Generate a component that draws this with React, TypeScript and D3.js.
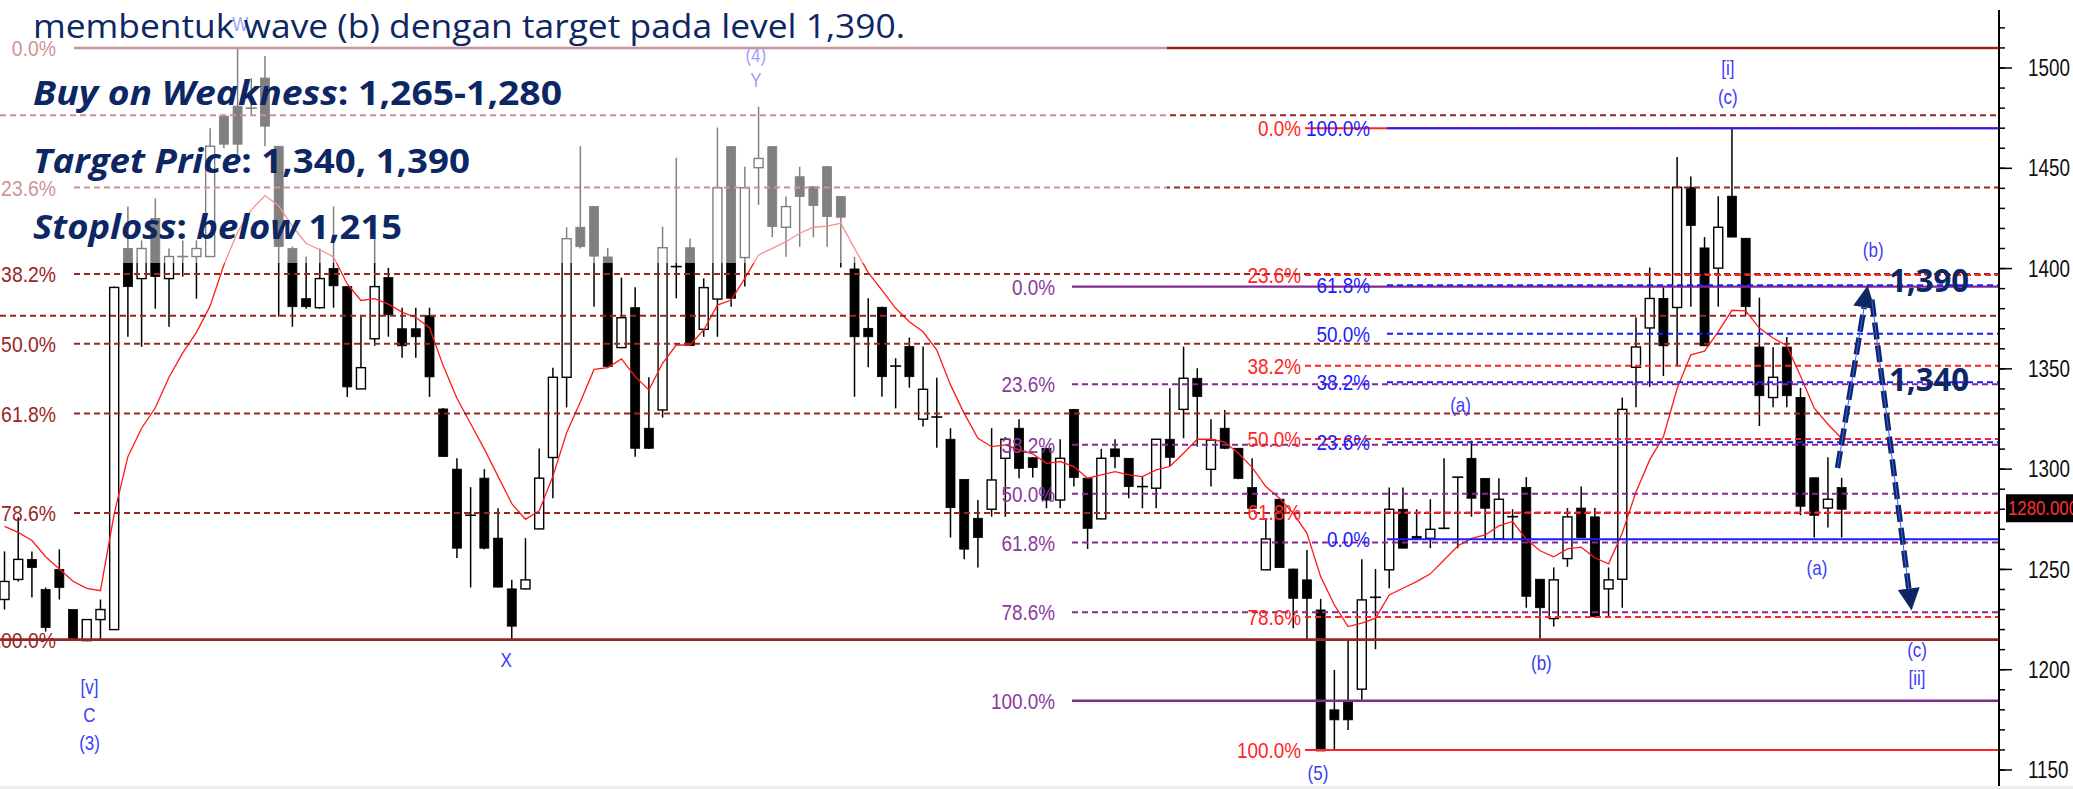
import React from 'react';
import * as d3 from 'd3';

const W = 2073;
const H = 789;

// ---- candle data (index 0..134) ----
const opens = [1235,1245,1255,1240,1250,1230,1214.5,1225,1220,1410,1395,1425,1395,1406,1406,1406,1476,1481,1480,1495,1461,1410,1385,
1380.5,1400,1391,1340,1365,1395.5,1370,1370,1376.5,1330,1300,1277,1295.5,1265.6,1240.3,1240.3,1270.2,1305.8,1345.8,1420.6,1431,1405.8,1360.6,
1380.5,1320.4,1329.5,1401,1410.4,1369.7,1384.8,1460.8,1405.5,1450.3,1460.8,1420.6,1445.8,1440.8,1450.8,1435.9,1399.8,1370.2,1380.7,1351.4,1361.1,1324.9,
1326,1314.9,1294.9,1275.5,1280,1305.4,1320.4,1305.7,1310.4,1284.6,1329.8,1295.5,1275.2,1310.1,1305.4,1291.3,1290.5,1314.9,1329.8,1345.3,1299.9,1320.4,
1310.4,1290.8,1249.8,1285,1250.2,1244.8,1229.8,1180,1184.1,1190.3,1236.1,1249.8,1280,1266.5,1265.5,1270.5,1296,1305.4,1295.4,1265.2,1276.3,1290.9,
1245.1,1225.5,1255.4,1280.6,1276.2,1240.3,1245.1,1350.8,1370.4,1385.1,1380.6,1440.5,1410.3,1400.2,1436.1,1415.1,1360.9,1335.7,1360.9,1335.7,1295.7,1280.6,1290.8];
const highs = [1259,1276,1259,1241,1260,1230,1225,1235,1391,1431,1414,1435,1410,1414,1414,1470,1477,1510,1495,1506,1461,1411,1406,
1410,1431,1391,1376.5,1415,1400.4,1380.5,1380.5,1380.5,1330.5,1305.4,1291,1300,1280.5,1244.8,1265.6,1310.3,1350.6,1420.6,1461,1431,1410.3,1395.5,
1390.7,1345.8,1420.9,1455.3,1415,1395.1,1470.3,1461,1450.8,1480.7,1461,1435.9,1450.8,1441,1451,1436,1405.9,1385.2,1381,1355.3,1365.6,1361.1,
1345.6,1320.4,1295,1284.6,1320.4,1316,1324.9,1306,1310.4,1314.9,1330,1295.5,1310.1,1314.9,1305.5,1296.3,1315,1340.3,1361.1,1350.3,1324.9,1329.5,
1310.5,1305.4,1275.5,1285,1250.3,1259.7,1235.3,1199.9,1214.9,1255.1,1250.2,1290.8,1290.8,1280,1285,1305.4,1296,1314.2,1295.5,1295.4,1280,1296,
1245.1,1251,1280.6,1291.3,1280.6,1251,1335.7,1375.7,1400.5,1390.8,1455.6,1445.9,1415.7,1436.1,1470.2,1415.1,1385.5,1360.9,1365.9,1340.5,1295.7,1305.9,1295.7];
const lows = [1230,1244,1236,1219,1235,1214.5,1214.5,1214.5,1220,1366,1361,1380,1371,1396,1385,1406,1460,1457,1477,1461,1376,1371,1380,
1380,1380.5,1336,1340,1361.5,1366,1355.5,1355.5,1336,1306,1255.7,1241,1260,1241,1215,1240,1270,1285.5,1330.8,1410,1381,1351,1360.5,
1306.2,1310,1325.7,1385.2,1361.5,1366,1366,1381,1391,1431.7,1415.6,1405.9,1410.9,1415.6,1410.9,1400.5,1336.1,1350.8,1336.1,1330.3,1340.6,1321.2,
1310.7,1265.9,1255.1,1250.9,1276.3,1276.3,1295.4,1295.8,1280.5,1280.5,1291.3,1260.2,1275,1300.4,1285.5,1280.5,1280.5,1301.3,1315.4,1311.2,1291.3,1310,
1295,1280,1249.7,1250.9,1220.7,1214.9,1159.5,1159.5,1170,1185,1210.2,1240.6,1260.5,1265.5,1260.6,1270,1260.6,1276.3,1265.2,1265,1265.2,1230.9,
1215.4,1221.5,1251.3,1265.9,1226,1226.4,1230.9,1330.9,1341.1,1346.4,1351.3,1381,1361.5,1381,1415.7,1376.6,1321.5,1330.9,1330.9,1277,1265.9,1270.9,1265.9];
const closes = [1244,1255,1251,1221,1241,1214.5,1225,1230,1390.6,1391,1410,1396,1406,1406,1410,1461,1462,1462,1480,1471,1411,1381,1381,
1395,1391.4,1341,1350.6,1391,1377,1361.5,1366,1346,1306.3,1260.6,1277,1260.6,1241.2,1221.7,1244.8,1295.5,1345.8,1414.9,1410.9,1406.2,1351.2,1375.5,
1310.4,1310.4,1410.4,1401,1361.6,1390.5,1440.3,1385.2,1440.3,1454.9,1420.9,1430.9,1435.9,1431.4,1425.9,1425.6,1366,1366,1346.1,1351.4,1346.1,1339.8,
1326,1280.8,1260.1,1265.9,1294.6,1314.9,1300.4,1300.8,1284.6,1305.4,1295.8,1270.5,1305.4,1306.2,1291.3,1291.3,1314.9,1305.9,1345.3,1336.2,1314.5,1310.4,
1295.4,1280.5,1265.2,1250.9,1235.6,1235.6,1159.5,1175,1175,1234.8,1236.1,1280,1260.6,1265.5,1270,1270.5,1296,1285.5,1280.5,1285,1276.3,1236.6,
1230.9,1244.8,1276.2,1265.9,1226.4,1244.8,1329.8,1360.9,1385.1,1361.5,1440.5,1421.5,1361.5,1420.6,1415.7,1381,1336.6,1345.8,1336.6,1281.5,1277,1285,1280];
// moving average
const movingAvg = [1271.5,1268.5,1264.4,1256.3,1250.2,1244.1,1240.6,1239.4,1277.7,1306.2,1320.4,1330.6,1345.8,1358,1368.2,1381.4,1401.8,1418.1,1429.3,1436.4,1431.3,1421.1,1412.5,
1409.4,1405.8,1392.3,1384.1,1385,1382.3,1378.3,1375.6,1370.5,1351.5,1335.3,1322.6,1310,1296.4,1282.8,1275,1279.2,1296.4,1318.1,1333.5,1349.7,1350.6,1355,
1346.1,1339.5,1352.8,1361.9,1361.9,1369.4,1381.8,1384.3,1395.1,1406.8,1410.1,1413.4,1417.6,1420.6,1421.2,1422.6,1410.1,1398,1389.3,1380.2,1373.5,1368.5,
1359.4,1342,1327.8,1315.4,1311.2,1312.1,1309.6,1307.6,1302.9,1303.8,1301.3,1295.5,1297.1,1298.8,1297.1,1296.3,1299.6,1301.3,1307.9,1314.9,1314.9,1313.5,
1307.9,1300.9,1291.3,1285.5,1278,1268,1246.4,1232.3,1221.5,1223.2,1225.7,1237.3,1240.6,1243.9,1247.8,1254.7,1261.7,1265.5,1267.2,1271.7,1273.9,1265,
1259.3,1256.3,1260.2,1261.1,1255.8,1252.8,1268.2,1288.6,1304.6,1316.2,1340.2,1357,1358.8,1368.6,1379.2,1378.9,1370.3,1365.4,1361.5,1346.4,1330.4,1322.4,1315.3];

const lastPrice = 1280;

// ---- axis ----
const axisTicks = [1150, 1200, 1250, 1300, 1350, 1400, 1450, 1500];
const minorTicks = [1140,1150,1160,1170,1180,1190,1200,1210,1220,1230,1240,1250,1260,1270,1280,1290,1300,1310,1320,1330,1340,1350,1360,1370,1380,1390,1400,1410,1420,1430,1440,1450,1460,1470,1480,1490,1500,1510,1520];

// ---- fibonacci retracements ----
const fibRatios = [0, 0.236, 0.382, 0.5, 0.618, 0.786, 1];
const fibLabels = ['0.0%', '23.6%', '38.2%', '50.0%', '61.8%', '78.6%', '100.0%'];
const leftFibRange = [1510, 1215];     // 0% -> 100%
const redFibRange = [1470, 1160];      // 0% -> 100%
const purpleFibRange = [1391, 1184.5]; // 0% -> 100%
const blueFibRatios = [1, 0.618, 0.5, 0.382, 0.236, 0];
const blueFibLabels = ['100.0%', '61.8%', '50.0%', '38.2%', '23.6%', '0.0%'];
const blueFibRange = [1265, 1470];     // 0% -> 100%
const extraLevels = [1476.5, 1376.5];

// ---- wave labels (candle index, price) ----
const waveText = ['W', '(4)', 'Y', '[v]', 'C', '(3)', 'X', '(5)', '(a)', '(b)', '[i]', '(c)', '(b)', '(a)', '(c)', '[ii]'];
const waveIdx = [17.2, 54.8, 54.8, 6.2, 6.2, 6.2, 36.6, 95.8, 106.2, 112.1, 125.7, 125.7, 136.3, 132.2, 139.5, 139.5];
const wavePrice = [1521.9, 1506.5, 1494, 1191.4, 1177.5, 1163.5, 1204.9, 1148.6, 1332, 1203.4, 1500, 1485.5, 1409.3, 1250.8, 1209.9, 1195.9];

// ---- projection arrows (candle index, price) ----
const upArrow = [[133.7, 1300.6], [135.9, 1391.5]];
const downArrow = [[136.2, 1384.5], [139.1, 1229.5]];
const targetLabels = ['1,390', '1,340'];
const targetPrices = [1394.5, 1345];

const NAVY = '#0d2765';
const DKRED = '#9a2424';
const RED = '#ff2424';
const BLUE = '#1c1cff';
const PURPLE = '#85288f';
const PURPLE_TXT = '#8a3a9c';
const WAVE = '#3c3cf5';
const FONT = 'Liberation Sans, Arial, sans-serif';

function CText(props: { x: number; y: number; text: string; size: number; fill: string; anchor?: string; sx?: number; weight?: number }) {
  const { x, y, text, size, fill, anchor = 'start', sx = 0.86, weight = 400 } = props;
  return (
    <text
      transform={`translate(${x},${y}) scale(${sx},1)`}
      fontSize={size}
      fill={fill}
      textAnchor={anchor as any}
      dominantBaseline="central"
      fontFamily={FONT}
      fontWeight={weight}
    >
      {text}
    </text>
  );
}

function Arrow(props: { pts: number[][]; x: any; y: any }) {
  const { pts, x, y } = props;
  const x1 = x(pts[0][0]), y1 = y(pts[0][1]);
  const x2 = x(pts[1][0]), y2 = y(pts[1][1]);
  const dx = x2 - x1, dy = y2 - y1;
  const len = Math.sqrt(dx * dx + dy * dy);
  const ux = dx / len, uy = dy / len;
  const hl = 22, hw = 11;
  const bx = x2 - ux * hl, by = y2 - uy * hl;
  const px = -uy, py = ux;
  const head = `M${x2},${y2} L${bx + px * hw},${by + py * hw} L${bx - px * hw},${by - py * hw} Z`;
  return (
    <g>
      <line x1={x1} y1={y1} x2={bx} y2={by} stroke={NAVY} strokeWidth={5.5} strokeDasharray="17 6" />
      <line x1={x1} y1={y1} x2={bx} y2={by} stroke="#3a5cff" strokeWidth={1} />
      <path d={head} fill={NAVY} />
    </g>
  );
}

export default function App() {
  const n = closes.length;
  const x = d3.scaleLinear().domain([0, n - 1]).range([4.5, 4.5 + (n - 1) * 13.71]);
  const y = d3.scaleLinear().domain([1150, 1500]).range([770, 68]);
  const AX = 1999;
  const bodyW = 9;

  const maLine = d3.line<number>().x((_, i) => x(i)).y((d) => y(d));

  const hline = (p: number, x1: number, x2: number, color: string, w: number, dashed: boolean, key: string) => (
    <line key={key} x1={x1} x2={x2} y1={y(p)} y2={y(p)} stroke={color} strokeWidth={w} strokeDasharray={dashed ? '6 4' : undefined} />
  );

  const leftLevels = fibRatios.map((r) => leftFibRange[0] + (leftFibRange[1] - leftFibRange[0]) * r);
  const redLevels = fibRatios.map((r) => redFibRange[0] + (redFibRange[1] - redFibRange[0]) * r);
  const purpleLevels = fibRatios.map((r) => purpleFibRange[0] + (purpleFibRange[1] - purpleFibRange[0]) * r);
  const blueLevels = blueFibRatios.map((r) => blueFibRange[0] + (blueFibRange[1] - blueFibRange[0]) * r);

  return (
    <svg width={W} height={H} style={{ position: 'absolute', left: 0, top: 0, background: '#fff' }}>
      <rect x={0} y={0} width={W} height={H} fill="#fff" />

      {/* candles */}
      <g>
        {closes.map((c, i) => {
          const o = opens[i];
          const up = c >= o;
          const top = y(Math.max(o, c));
          const bot = y(Math.min(o, c));
          const cx = x(i);
          const doji = bot - top < 2;
          return (
            <g key={i}>
              <line x1={cx} x2={cx} y1={y(highs[i])} y2={y(lows[i])} stroke="#000" strokeWidth={1.5} />
              {doji ? (
                <line x1={cx - 5.5} x2={cx + 5.5} y1={top} y2={top} stroke="#000" strokeWidth={1.6} />
              ) : (
                <rect
                  x={cx - bodyW / 2}
                  y={top}
                  width={bodyW}
                  height={bot - top}
                  fill={up ? '#fff' : '#000'}
                  stroke="#000"
                  strokeWidth={up ? 1.4 : 0.8}
                />
              )}
            </g>
          );
        })}
      </g>

      {/* moving average */}
      <path d={maLine(movingAvg) || ''} fill="none" stroke="#ff1a1a" strokeWidth={1.3} />

      {/* extra dark red levels */}
      {extraLevels.map((p, i) => hline(p, 0, AX, DKRED, 2, true, 'ex' + i))}

      {/* left fib */}
      {leftLevels.map((p, i) => {
        const solid = i === 0 || i === leftLevels.length - 1;
        return hline(p, i === leftLevels.length - 1 ? 0 : 74, AX, DKRED, solid ? 2.6 : 2, !solid, 'lf' + i);
      })}
      {leftLevels.map((p, i) => (
        <CText key={'lfl' + i} x={56} y={y(p)} text={fibLabels[i]} size={22} fill={DKRED} anchor="end" sx={0.88} />
      ))}

      {/* purple fib */}
      {purpleLevels.map((p, i) => {
        const solid = i === 0 || i === purpleLevels.length - 1;
        return hline(p, 1072, AX, PURPLE, solid ? 2.4 : 2, !solid, 'pf' + i);
      })}
      {purpleLevels.map((p, i) => (
        <CText key={'pfl' + i} x={1055} y={y(p)} text={fibLabels[i]} size={22} fill={PURPLE_TXT} anchor="end" />
      ))}

      {/* red fib */}
      {redLevels.map((p, i) => {
        const solid = i === 0 || i === redLevels.length - 1;
        return hline(p, 1305, AX, RED, 2, !solid, 'rf' + i);
      })}

      {/* blue fib */}
      {blueLevels.map((p, i) => {
        const solid = blueFibRatios[i] === 1 || blueFibRatios[i] === 0;
        return hline(p, 1387, AX, BLUE, 2, !solid, 'bf' + i);
      })}
      {redLevels.map((p, i) => (
        <CText key={'rfl' + i} x={1301} y={y(p)} text={fibLabels[i]} size={22} fill={RED} anchor="end" />
      ))}
      {blueLevels.map((p, i) => (
        <CText key={'bfl' + i} x={1370} y={y(p)} text={blueFibLabels[i]} size={22} fill={BLUE} anchor="end" />
      ))}

      {/* wave labels */}
      {waveText.map((t, i) => (
        <CText key={'w' + i} x={x(waveIdx[i])} y={y(wavePrice[i])} text={t} size={20} fill={WAVE} anchor="middle" sx={0.85} />
      ))}

      {/* translucent text box */}
      <rect x={0} y={0} width={1167} height={263} fill="#fff" fillOpacity={0.5} />

      <g fontFamily="Open Sans, Noto Sans, sans-serif" fill={NAVY}>
        <text x={33} y={38} fontSize={32} textLength={872} lengthAdjust="spacingAndGlyphs">
          membentuk wave (b) dengan target pada level 1,390.
        </text>
        <text x={33} y={105} fontSize={34} fontWeight={700} textLength={529} lengthAdjust="spacingAndGlyphs">
          <tspan fontStyle="italic">Buy on Weakness</tspan>
          {': 1,265-1,280'}
        </text>
        <text x={33} y={173} fontSize={34} fontWeight={700} textLength={437} lengthAdjust="spacingAndGlyphs">
          <tspan fontStyle="italic">Target Price</tspan>
          {': 1,340, 1,390'}
        </text>
        <text x={33} y={239} fontSize={34} fontWeight={700} textLength={369} lengthAdjust="spacingAndGlyphs">
          <tspan fontStyle="italic">Stoploss</tspan>
          {': '}
          <tspan fontStyle="italic">below</tspan>
          {' 1,215'}
        </text>
      </g>

      {/* projection arrows */}
      <Arrow pts={upArrow} x={x} y={y} />
      <Arrow pts={downArrow} x={x} y={y} />
      {targetLabels.map((t, i) => (
        <text key={'tl' + i} x={1889} y={y(targetPrices[i]) + 12} fontSize={32} fontWeight={700} fill={NAVY}
          fontFamily="Open Sans, Noto Sans, sans-serif" textLength={80} lengthAdjust="spacingAndGlyphs">{t}</text>
      ))}

      {/* price axis */}
      <line x1={AX} x2={AX} y1={10} y2={786} stroke="#000" strokeWidth={2} />
      {minorTicks.map((t) => (
        <line key={'mt' + t} x1={AX} x2={AX + 6} y1={y(t)} y2={y(t)} stroke="#000" strokeWidth={1.5} />
      ))}
      {axisTicks.map((t) => (
        <g key={'at' + t}>
          <line x1={AX} x2={AX + 13} y1={y(t)} y2={y(t)} stroke="#000" strokeWidth={1.5} />
          <CText x={2028} y={y(t)} text={String(t)} size={23} fill="#111" sx={0.82} />
        </g>
      ))}
      <rect x={2006} y={y(lastPrice) - 15} width={70} height={28} fill="#000" />
      <CText x={2008} y={y(lastPrice) - 1} text={lastPrice.toFixed(3)} size={21} fill="#ff3030" sx={0.8} />

      <rect x={0} y={786} width={W} height={3} fill="#ececec" />
    </svg>
  );
}
